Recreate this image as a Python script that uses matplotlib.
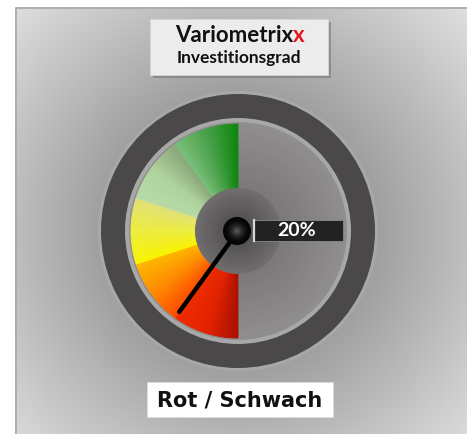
import matplotlib
matplotlib.use("Agg")
import matplotlib.pyplot as plt
import numpy as np
from matplotlib.patches import Circle, Wedge, Rectangle
from matplotlib.colors import to_rgb

# --- data -----------------------------------------------------------------
segment_names = ["Rot", "Orange", "Gelb", "Hellgrün", "Grün"]
segment_share = [20, 20, 20, 20, 20]          # percent of the dial
segment_start_colors = ["#a81000", "#ff4a00", "#fbf400", "#b8dca8", "#7cc07c"]
segment_mid_colors = ["#e42200", "#ff8a00", "#eeee40", "#b0d49e", "#4aa24a"]
segment_end_colors = ["#f02c00", "#ffb800", "#e2e27a", "#8aa87a", "#0c860c"]
value = 20
value_label = "20%"
title_main = "Variometrix"
title_accent = "x"
title_sub = "Investitionsgrad"
status_label = "Rot / Schwach"

W, H = 467, 434
CX, CY = 238, 231          # gauge centre in pixel coords (y down)
R_RING_OUT, R_RING_IN = 137, 113
R_FACE, R_HUB = 107, 43


def Y(y):
    return H - y


def lerp(c1, c2, t):
    a, b = np.array(to_rgb(c1)), np.array(to_rgb(c2))
    return tuple(a + (b - a) * t)


def pct_to_deg(p):
    # 0 % at the bottom, 100 % at the top, sweeping over the left side
    return 270 - 1.8 * p


fig = plt.figure(figsize=(W / 100, H / 100), dpi=100)
ax = fig.add_axes([0, 0, 1, 1])
ax.set_xlim(0, W)
ax.set_ylim(0, H)
ax.axis("off")

# background: white page, grey panel with radial shading
yy, xx = np.mgrid[0:H, 0:W]
rr = np.hypot(xx - CX, yy - CY)
shade = np.clip(0.60 + (rr - 120) / 210 * 0.29, 0.60, 0.89)
bg = np.dstack([shade, shade, shade])
bg[:7, :] = 1.0
bg[:, :15] = 1.0
ax.imshow(bg, extent=(0, W, 0, H), origin="upper", zorder=0, interpolation="bilinear")
ax.plot([15.5, 15.5, W], [0, Y(7.5), Y(7.5)], color="#a8a8a8", lw=1.2, zorder=1)

# ring and face
ax.add_patch(Circle((CX, Y(CY)), R_RING_OUT + 3, fc="#b2b2b2", ec="none", alpha=0.5, zorder=2))
ax.add_patch(Circle((CX, Y(CY)), R_RING_OUT, fc="#4a4848", ec="none", zorder=3))
ax.add_patch(Circle((CX, Y(CY)), R_RING_IN, fc="#a9a8a8", ec="none", zorder=4))
for r in np.linspace(R_FACE + 2, R_HUB, 40):
    t = (R_FACE + 2 - r) / (R_FACE + 2 - R_HUB)
    ax.add_patch(Circle((CX, Y(CY)), r, fc=lerp("#908e8e", "#7a7878", t), ec="none", zorder=5))

# coloured segments with angular gradient
start = 0
for share, c0, cm, c1 in zip(segment_share, segment_start_colors,
                             segment_mid_colors, segment_end_colors):
    n = 30
    for k in range(n):
        p0 = start + share * k / n
        p1 = start + share * (k + 1) / n
        t = (k + 0.5) / n
        col = lerp(c0, cm, t * 2) if t < 0.5 else lerp(cm, c1, (t - 0.5) * 2)
        ax.add_patch(Wedge((CX, Y(CY)), R_FACE, pct_to_deg(p1), pct_to_deg(p0),
                           width=R_FACE - R_HUB, fc=col, ec=col, lw=0.6, zorder=6))
    start += share

# hub disc
for r in np.linspace(R_HUB, 14, 30):
    t = (R_HUB - r) / (R_HUB - 14)
    ax.add_patch(Circle((CX, Y(CY)), r, fc=lerp("#706e6e", "#545252", t), ec="none", zorder=7))

# needle
ang = np.deg2rad(pct_to_deg(value))
L = 100
ax.plot([CX, CX + L * np.cos(ang)], [Y(CY), Y(CY) + L * np.sin(ang)],
        color="black", lw=3.2, solid_capstyle="round", zorder=8)

# ball
for r in np.linspace(14, 1, 20):
    t = (14 - r) / 13
    ax.add_patch(Circle((CX - 1, Y(CY)), r, fc=lerp("#050505", "#5a5a5a", t ** 2), ec="none", zorder=9))

# value box
ax.add_patch(Rectangle((253, Y(241)), 90, 21, fc="#222222", ec="#8a8a8a", lw=0.6, zorder=9))
ax.plot([254, 254], [Y(241), Y(220)], color="#d8d8d8", lw=1.6, zorder=10)
ax.text(297, Y(231), value_label, color="white", fontsize=14, fontweight="bold",
        family="Lato", ha="center", va="center", zorder=11)

# title box
ax.add_patch(Rectangle((153, Y(78)), 178, 56, fc="#6a6a6a", ec="none", alpha=0.5, zorder=12))
ax.add_patch(Rectangle((150, Y(75)), 178, 56, fc="#ececec", ec="#d6d6d6", lw=0.6, zorder=13))
t_full = ax.text(0, 0, title_main + title_accent, fontsize=16, fontweight="bold", family="Lato")
t_acc = ax.text(0, 0, title_accent, fontsize=16, fontweight="bold", family="Lato")
fig.canvas.draw()
rend = fig.canvas.get_renderer()
w_full = t_full.get_window_extent(rend).width
w_acc = t_acc.get_window_extent(rend).width
t_full.remove()
t_acc.remove()
x_split = 240 + w_full / 2 - w_acc
ax.text(x_split, Y(36), title_main, fontsize=16, fontweight="bold", family="Lato",
        color="#111111", ha="right", va="center", zorder=14)
ax.text(x_split, Y(36), title_accent, fontsize=16, fontweight="bold", family="Lato",
        color="#e8151b", ha="left", va="center", zorder=14)
ax.text(239, Y(58), title_sub, fontsize=12.5, fontweight="bold", family="Lato",
        color="#111111", ha="center", va="center", zorder=14)

# status box
ax.add_patch(Rectangle((147, Y(417)), 186, 35, fc="white", ec="#dddddd", lw=0.5, zorder=12))
ax.text(240, Y(400), status_label, fontsize=15, fontweight="bold", family="DejaVu Sans",
        color="#111111", ha="center", va="center", zorder=14)

fig.savefig("out.png", dpi=100)
